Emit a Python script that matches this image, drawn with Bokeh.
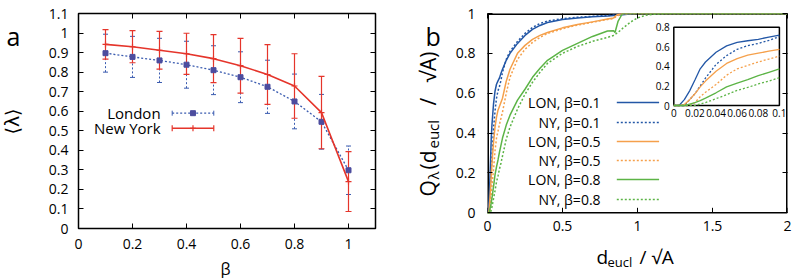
import math
from bokeh.plotting import figure
from bokeh.models import (ColumnDataSource, Whisker, TeeHead, LinearAxis, FixedTicker,
                          NumeralTickFormatter, CustomJSTickFormatter, Range1d, Label, GridBox)
from bokeh.layouts import row, column
from bokeh.embed import file_html
from bokeh.resources import INLINE
from bokeh.core.properties import value

FONT = "Open Sans"
W, H = 798, 278

# ---------------- panel a: mean lambda vs beta ----------------
beta = [0.1, 0.2, 0.3, 0.4, 0.5, 0.6, 0.7, 0.8, 0.9, 1.0]
london_mean = [0.897, 0.878, 0.860, 0.838, 0.810, 0.774, 0.725, 0.650, 0.546, 0.298]
london_err = [0.097, 0.105, 0.113, 0.120, 0.125, 0.130, 0.136, 0.140, 0.140, 0.124]
ny_mean = [0.942, 0.930, 0.912, 0.894, 0.869, 0.833, 0.788, 0.729, 0.593, 0.240]
ny_err = [0.075, 0.082, 0.097, 0.105, 0.123, 0.140, 0.153, 0.165, 0.185, 0.153]
legend_a = ["London", "New York"]

a_xticks = [0, 0.2, 0.4, 0.6, 0.8, 1.0]
a_yticks = [0, 0.1, 0.2, 0.3, 0.4, 0.5, 0.6, 0.7, 0.8, 0.9, 1.0, 1.1]

# ---------------- panel b: cumulative Q vs d_eucl / sqrt(A) ----------------
d_grid = [0.0, 0.005, 0.01, 0.015, 0.02, 0.025, 0.03, 0.04, 0.05, 0.06, 0.07, 0.08,
          0.09, 0.1, 0.125, 0.15, 0.2, 0.25, 0.3, 0.35, 0.4, 0.5, 0.6, 0.7, 0.8,
          0.84, 0.85, 0.87, 0.9, 0.95, 1.0, 1.05, 1.1, 1.2, 2.0]
q_lon_01 = [0, 0, 0.06, 0.15, 0.26, 0.375, 0.445, 0.545, 0.61, 0.645, 0.662, 0.677,
            0.70, 0.72, 0.765, 0.80, 0.85, 0.89, 0.92, 0.94, 0.955, 0.97, 0.978, 0.984,
            0.988, 0.99, 0.99, 0.992, 0.994, 0.997, 1, 1, 1, 1, 1]
q_ny_01 = [0, 0, 0, 0.06, 0.12, 0.20, 0.28, 0.42, 0.51, 0.575, 0.612, 0.635,
           0.665, 0.705, 0.77, 0.81, 0.86, 0.90, 0.93, 0.95, 0.962, 0.974, 0.981, 0.986,
           0.99, 0.992, 0.993, 0.995, 0.997, 1, 1, 1, 1, 1, 1]
q_lon_05 = [0, 0, 0.01, 0.06, 0.12, 0.19, 0.25, 0.35, 0.43, 0.48, 0.515, 0.535,
            0.555, 0.575, 0.66, 0.72, 0.80, 0.84, 0.87, 0.89, 0.905, 0.928, 0.945, 0.958,
            0.972, 0.977, 0.985, 0.995, 1, 1, 1, 1, 1, 1, 1]
q_ny_05 = [0, 0, 0, 0, 0.03, 0.09, 0.135, 0.215, 0.31, 0.375, 0.41, 0.445,
           0.475, 0.505, 0.60, 0.68, 0.77, 0.82, 0.855, 0.88, 0.9, 0.923, 0.942, 0.956,
           0.97, 0.975, 0.98, 0.99, 0.998, 1, 1, 1, 1, 1, 1]
q_lon_08 = [0, 0, 0, 0.015, 0.03, 0.05, 0.075, 0.13, 0.19, 0.23, 0.265, 0.305,
            0.34, 0.375, 0.44, 0.49, 0.565, 0.62, 0.68, 0.725, 0.765, 0.815, 0.85, 0.885,
            0.912, 0.914, 0.905, 0.96, 1, 1, 1, 1, 1, 1, 1]
q_ny_08 = [0, 0, 0, 0, 0, 0.015, 0.03, 0.07, 0.11, 0.155, 0.185, 0.22,
           0.25, 0.285, 0.37, 0.43, 0.52, 0.595, 0.655, 0.705, 0.75, 0.80, 0.835, 0.86,
           0.88, 0.89, 0.895, 0.905, 0.925, 0.955, 0.978, 0.99, 0.996, 1, 1]
legend_b = ["LON,  β=0.1", "NY,  β=0.1", "LON,  β=0.5", "NY,  β=0.5", "LON,  β=0.8", "NY,  β=0.8"]

b_xticks = [0, 0.5, 1, 1.5, 2]
b_yticks = [0, 0.2, 0.4, 0.6, 0.8, 1]
b_xmax = 2
b_ymax = 1
inset_xticks = [0, 0.02, 0.04, 0.06, 0.08, 0.1]
inset_xlabels = ["0", "0.02", "0.04", "0.06", "0.08", "0.1"]
inset_yticks = [0, 0.2, 0.4, 0.6, 0.8]
inset_ylabels = ["0", "0.2", "0.4", "0.6", "0.8"]
inset_xmax = 0.1
inset_ymax = 0.8

BLUE = "#2357a6"
ORANGE = "#f5a04b"
GREEN = "#5cb446"
RED = "#e5352b"
LBLUE = "#3b5cb0"
SQUARE = "#4d4d9e"

# shared vertical borders (side-by-side figures get their frames lined up)
TOP, BOTTOM = 13, 50
FRAME_H = H - TOP - BOTTOM
# panel b's box ends this many pixels above the shared frame bottom
B_LIFT = 15.7
TICK = 5


def style_axis(ax, ticks, fmt, size="14px"):
    ax.ticker = FixedTicker(ticks=ticks)
    ax.formatter = fmt
    ax.major_tick_in = TICK
    ax.major_tick_out = 0
    ax.minor_tick_line_color = None
    ax.axis_line_color = None
    ax.major_tick_line_color = "black"
    ax.major_tick_line_width = 1
    ax.major_label_text_font = FONT
    ax.major_label_text_font_size = size
    ax.major_label_text_color = "black"


def mirror_axes(p, xticks, yticks):
    blank = CustomJSTickFormatter(code="return ''")
    top = LinearAxis()
    right = LinearAxis()
    style_axis(top, xticks, blank, "0px")
    style_axis(right, yticks, blank, "0px")
    top.major_label_standoff = 0
    right.major_label_standoff = 0
    p.add_layout(top, "above")
    p.add_layout(right, "right")


def base_figure(width, xr, yr, left, right):
    p = figure(width=width, height=H, x_range=xr, y_range=yr,
               output_backend="svg", toolbar_location=None,
               min_border_left=left, min_border_right=right,
               min_border_top=TOP, min_border_bottom=BOTTOM)
    p.grid.visible = False
    p.outline_line_color = "black"
    p.outline_line_width = 1.5
    p.background_fill_color = "white"
    p.border_fill_color = "white"
    return p


# ======================= panel a =======================
pa = base_figure(400, Range1d(0, 1.1), Range1d(0, 1.1), 78, 25)
style_axis(pa.xaxis[0], a_xticks, NumeralTickFormatter(format="0.[0]"))
style_axis(pa.yaxis[0], a_yticks, NumeralTickFormatter(format="0.[0]"))
pa.xaxis[0].major_label_standoff = 10
pa.yaxis[0].major_label_standoff = 10
mirror_axes(pa, a_xticks, a_yticks)

lon_src = ColumnDataSource(dict(x=beta, y=london_mean,
                                lo=[m - e for m, e in zip(london_mean, london_err)],
                                hi=[m + e for m, e in zip(london_mean, london_err)]))
ny_src = ColumnDataSource(dict(x=beta, y=ny_mean,
                               lo=[m - e for m, e in zip(ny_mean, ny_err)],
                               hi=[m + e for m, e in zip(ny_mean, ny_err)]))

pa.add_layout(Whisker(base="x", lower="lo", upper="hi", source=lon_src,
                      line_color=LBLUE, line_width=1, line_dash="2 2",
                      lower_head=TeeHead(size=5, line_color=LBLUE, line_width=1),
                      upper_head=TeeHead(size=5, line_color=LBLUE, line_width=1)))
pa.line("x", "y", source=lon_src, line_color=LBLUE, line_width=1.3, line_dash="2 2")
pa.scatter("x", "y", source=lon_src, marker="square", size=5,
           fill_color=SQUARE, line_color=SQUARE)

pa.add_layout(Whisker(base="x", lower="lo", upper="hi", source=ny_src,
                      line_color=RED, line_width=1.2,
                      lower_head=TeeHead(size=6, line_color=RED, line_width=1.2),
                      upper_head=TeeHead(size=6, line_color=RED, line_width=1.2)))
pa.line("x", "y", source=ny_src, line_color=RED, line_width=1.6)
pa.scatter("x", "y", source=ny_src, marker="cross", size=6, line_color=RED, line_width=1.2)

# legend: label, then a sample line with its marker
leg_a_y = [0.59, 0.513]
leg_a_src = ColumnDataSource(dict(x=[0.304, 0.304], y=leg_a_y, t=legend_a))
pa.text("x", "y", text="t", source=leg_a_src, text_align="right", text_baseline="middle",
        text_font=value(FONT), text_font_size="15px", text_color="black")
pa.segment(x0=0.347, y0=leg_a_y[0], x1=0.501, y1=leg_a_y[0], line_color=LBLUE,
           line_width=1.3, line_dash="2 2")
pa.scatter(x=[0.347, 0.501], y=[leg_a_y[0]] * 2, marker="dash", angle=math.pi / 2,
           size=5, line_color=LBLUE)
pa.scatter(x=[0.424], y=[leg_a_y[0]], marker="square", size=5,
           fill_color=SQUARE, line_color=SQUARE)
pa.segment(x0=0.347, y0=leg_a_y[1], x1=0.501, y1=leg_a_y[1], line_color=RED, line_width=1.6)
pa.scatter(x=[0.347, 0.501], y=[leg_a_y[1]] * 2, marker="dash", angle=math.pi / 2,
           size=6, line_color=RED, line_width=1.2)
pa.scatter(x=[0.424], y=[leg_a_y[1]], marker="cross", size=6, line_color=RED, line_width=1.2)

# ======================= panel b =======================
# the frame runs down to the shared bottom; the plotted box stops B_LIFT px above it
b_unit = (FRAME_H - B_LIFT) / b_ymax
pb = base_figure(398, Range1d(0, b_xmax), Range1d(-B_LIFT / b_unit, b_ymax), 87, 11)
pb.outline_line_color = None
style_axis(pb.xaxis[0], b_xticks, NumeralTickFormatter(format="0.[0]"))
style_axis(pb.yaxis[0], b_yticks, NumeralTickFormatter(format="0.[0]"))
pb.xaxis[0].major_tick_line_color = None
pb.xaxis[0].major_label_standoff = -8
pb.yaxis[0].major_label_standoff = 12
mirror_axes(pb, b_xticks, b_yticks)

# box of panel b: left, top and right edges sit on the frame edge (half clipped)
pb.line(x=[0, 0, b_xmax, b_xmax], y=[0, b_ymax, b_ymax, 0], line_color="black", line_width=3)
pb.segment(x0=0, y0=0, x1=b_xmax, y1=0, line_color="black", line_width=1.5)
pb.segment(x0=b_xticks, y0=[0] * len(b_xticks), x1=b_xticks,
           y1=[TICK / b_unit] * len(b_xticks), line_color="black", line_width=1)

curves = [
    (q_lon_01, BLUE, None), (q_ny_01, BLUE, "2 2"),
    (q_lon_05, ORANGE, None), (q_ny_05, ORANGE, "2 2"),
    (q_lon_08, GREEN, None), (q_ny_08, GREEN, "2 2"),
]
for q, color, dash in curves:
    kw = dict(line_color=color, line_width=1.5)
    if dash:
        kw["line_dash"] = dash
    pb.line(d_grid, q, **kw)

# legend: right-aligned text followed by a line sample
leg_b_y = [0.553, 0.453, 0.358, 0.262, 0.167, 0.067]
pb.text(x=[0.778] * 6, y=leg_b_y, text=legend_b, text_align="right", text_baseline="middle",
        text_font=value(FONT), text_font_size="14px", text_color="black")
for (q, color, dash), yy in zip(curves, leg_b_y):
    kw = dict(line_color=color, line_width=1.5)
    if dash:
        kw["line_dash"] = dash
    pb.segment(x0=0.862, y0=yy, x1=1.144, y1=yy, **kw)

# inset: its own ranges, mapped onto a sub-box of the frame (fractions of the frame)
IN_L, IN_R, IN_B, IN_T = 0.621, 0.973, 0.572, 0.936
sx = inset_xmax / (IN_R - IN_L)
sy = inset_ymax / (IN_T - IN_B)
pb.extra_x_ranges = {"ix": Range1d(-IN_L * sx, inset_xmax + (1 - IN_R) * sx)}
pb.extra_y_ranges = {"iy": Range1d(-IN_B * sy, inset_ymax + (1 - IN_T) * sy)}
pb.quad(left=0, right=inset_xmax, bottom=0, top=inset_ymax, x_range_name="ix",
        y_range_name="iy", fill_color="white", line_color="black", line_width=1.5)
n_in = d_grid.index(0.1) + 1
for q, color, dash in curves:
    kw = dict(line_color=color, line_width=1.3, x_range_name="ix", y_range_name="iy")
    if dash:
        kw["line_dash"] = dash
    pb.line(d_grid[:n_in], q[:n_in], **kw)
pb.text(x=inset_xticks, y=[0] * len(inset_xticks), text=inset_xlabels, x_range_name="ix",
        y_range_name="iy", text_align="center", text_baseline="top", y_offset=3,
        text_font=value(FONT), text_font_size="10px", text_color="black")
pb.text(x=[0] * len(inset_yticks), y=inset_yticks, text=inset_ylabels, x_range_name="ix",
        y_range_name="iy", text_align="right", text_baseline="middle", x_offset=-4,
        text_font=value(FONT), text_font_size="10px", text_color="black")

# ============ overlay: panel letters and axis titles (page pixel coordinates) ============
ov = figure(width=W, height=H, x_range=Range1d(0, W), y_range=Range1d(H, 0),
            x_axis_type=None, y_axis_type=None, output_backend="svg", toolbar_location=None,
            min_border_left=0, min_border_right=0, min_border_top=0, min_border_bottom=0,
            outline_line_color=None)
ov.grid.visible = False
ov.background_fill_alpha = 0
ov.border_fill_alpha = 0


def page_label(text, x, y, size, angle=0.0, font=FONT, align="left", baseline="alphabetic"):
    ov.add_layout(Label(x=x, y=y, text=text, angle=angle, text_font=font,
                        text_font_size=size, text_align=align, text_baseline=baseline,
                        text_color="black"))


# panel a titles
page_label("a", 6, 35, "25px")
page_label("β", 225, 268, "16px", align="center")
page_label("⟨λ⟩", 11, 121, "19px", angle=math.pi / 2, font="DejaVu Sans",
           align="center", baseline="middle")

# panel b titles
page_label("b", 425, 35, "25px")
for t, x, y, fs in [("d", 596, 256, "19px"), ("eucl", 607, 261, "13px"),
                    ("/ √A", 639, 256, "19px")]:
    page_label(t, x, y, fs)
for t, x, y, fs in [("Q", 427, 196, "21px"), ("λ", 432, 179, "15px"), ("(d", 427, 169, "21px"),
                    ("eucl", 432, 148, "15px"), ("/", 427, 105, "21px"), ("√A)", 427, 82, "21px")]:
    page_label(t, x, y, fs, angle=math.pi / 2)

layout = GridBox(children=[(row(column(pa), column(pb)), 0, 0), (ov, 0, 0)])
open("out.html", "w").write(file_html(layout, INLINE))
